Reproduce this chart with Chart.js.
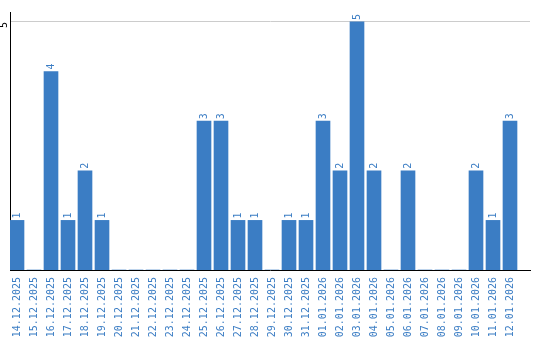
<!DOCTYPE html>
<html>
<head>
<meta charset="utf-8">
<script src="https://cdn.jsdelivr.net/npm/chart.js@4"></script>
<style>
  body { margin: 0; background: #fff; }
</style>
</head>
<body>
<canvas id="chartArea" width="540" height="340"></canvas>
<script>
const chartArea = document.getElementById("chartArea");

var dateLabels = ["14.12.2025", "15.12.2025", "16.12.2025", "17.12.2025", "18.12.2025", "19.12.2025",
    "20.12.2025", "21.12.2025", "22.12.2025", "23.12.2025", "24.12.2025", "25.12.2025", "26.12.2025",
    "27.12.2025", "28.12.2025", "29.12.2025", "30.12.2025", "31.12.2025", "01.01.2026", "02.01.2026",
    "03.01.2026", "04.01.2026", "05.01.2026", "06.01.2026", "07.01.2026", "08.01.2026", "09.01.2026",
    "10.01.2026", "11.01.2026", "12.01.2026"];
var counts = [1, 0, 4, 1, 2, 1, 0, 0, 0, 0, 0, 3, 3, 1, 1, 0, 1, 1, 3, 2, 5, 2, 0, 2, 0, 0, 0, 2, 1, 3];
var yTicks = [5];

var blue = '#3b7dc4';
var font = { family: 'DejaVu Sans Mono', size: 10 };

//write the count above each bar, turned on its side
var valueLabels = {
    id: 'valueLabels',
    afterDatasetsDraw(chart) {
        var ctx = chart.ctx;
        var bars = chart.getDatasetMeta(0).data;
        ctx.save();
        ctx.fillStyle = blue;
        ctx.font = '10px "DejaVu Sans Mono"';
        ctx.textAlign = 'left';
        ctx.textBaseline = 'middle';
        for (var i = 0; i < bars.length; i++) {
            if (counts[i] == 0) continue;
            ctx.save();
            ctx.translate(bars[i].x, bars[i].y - 2);
            ctx.rotate(-Math.PI / 2);
            ctx.fillText(String(counts[i]), 0, 0);
            ctx.restore();
        }
        ctx.restore();
    }
};

var colChart = new Chart(chartArea, {
    type: 'bar',
    data: {
        datasets: [{
            data: counts.map((c, i) => ({ x: i, y: c })),
            backgroundColor: blue,
            borderWidth: 0,
            barThickness: 14
        }]
    },
    options: {
        responsive: false,
        animation: false,
        layout: { padding: { top: 10, right: 10, left: 0, bottom: 0 } },
        plugins: { legend: { display: false }, tooltip: { enabled: false } },
        scales: {
            x: {
                type: 'linear',
                offset: false,
                min: -7 / 17,
                max: -7 / 17 + 520 / 17,
                grid: { display: false, drawTicks: false, offset: false },
                border: { display: true, color: '#000', width: 1 },
                afterBuildTicks: (scale) => { scale.ticks = dateLabels.map((l, i) => ({ value: i })); },
                afterFit: (scale) => { scale.height = 70; },
                ticks: {
                    autoSkip: false,
                    minRotation: 90,
                    maxRotation: 90,
                    padding: 7,
                    color: blue,
                    font: font,
                    callback: (v) => dateLabels[v]
                }
            },
            y: {
                min: 0,
                max: 5.2,
                grid: { color: '#cccccc', drawTicks: false },
                border: { display: true, color: '#000', width: 1 },
                afterBuildTicks: (scale) => { scale.ticks = yTicks.map(v => ({ value: v })); },
                afterFit: (scale) => { scale.width = 10; },
                ticks: {
                    minRotation: 90,
                    maxRotation: 90,
                    padding: 6,
                    color: '#000',
                    font: font
                }
            }
        }
    },
    plugins: [valueLabels]
});
</script>
</body>
</html>
